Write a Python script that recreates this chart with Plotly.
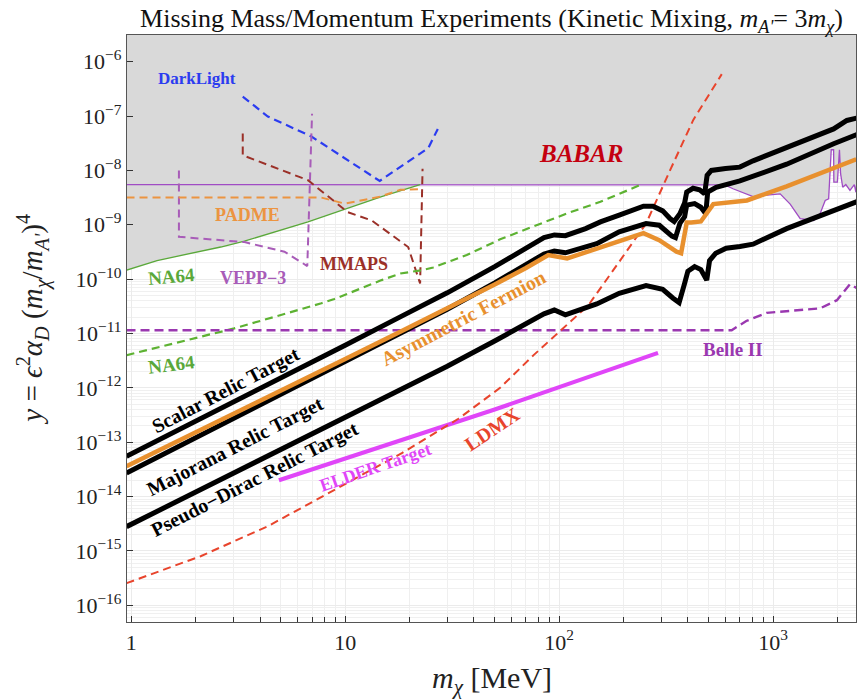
import plotly.graph_objects as go
import numpy as np

# ---------------- data ----------------
scalar_x = [0.95, 2, 5, 10, 18, 30, 50, 70, 85, 95, 107, 133, 156, 191, 248, 275, 305, 330, 345, 367, 386, 395, 423, 454, 479, 492, 515, 600, 700, 807, 1158, 1500, 1920, 2215, 2550]
scalar_y = [5.5e-14, 2.4e-13, 1.5e-12, 6.1e-12, 2.0e-11, 5.6e-11, 1.7e-10, 3.7e-10, 5.8e-10, 6.5e-10, 6.3e-10, 8.5e-10, 1.13e-9, 1.5e-9, 2.2e-9, 2.2e-9, 1.8e-9, 1.3e-9, 1.15e-9, 1.6e-9, 2.5e-9, 4.0e-9, 4.7e-9, 4.4e-9, 3.7e-9, 8.1e-9, 1.0e-8, 1.08e-8, 1.15e-8, 1.5e-8, 2.6e-8, 3.8e-8, 5.8e-8, 8.3e-8, 9.5e-8]

majorana_x = [0.95, 2, 5, 10, 18, 30, 50, 70, 85, 95, 107, 150, 191, 255, 294, 337, 350, 367, 386, 395, 430, 460, 485, 495, 542, 700, 1158, 1920, 2550]
majorana_y = [2.7e-14, 1.2e-13, 7.5e-13, 3.0e-12, 9.8e-12, 2.8e-11, 8.5e-11, 1.85e-10, 2.9e-10, 3.3e-10, 3.05e-10, 4.5e-10, 7.4e-10, 1.05e-9, 9.8e-10, 6.2e-10, 5.8e-10, 1.06e-9, 1.4e-9, 2.3e-9, 2.45e-9, 2.1e-9, 1.6e-9, 4.0e-9, 4.9e-9, 6.4e-9, 1.3e-8, 3.1e-8, 4.8e-8]

pdirac_x = [0.95, 2, 5, 10, 18, 30, 50, 70, 85, 95, 107, 150, 191, 255, 305, 340, 364, 385, 400, 430, 460, 490, 505, 540, 604, 700, 807, 1158, 1920, 2550]
pdirac_y = [2.8e-15, 1.2e-14, 7.3e-14, 2.9e-13, 8.8e-13, 2.5e-12, 7.3e-12, 1.5e-11, 2.3e-11, 2.7e-11, 2.2e-11, 3.5e-11, 5.5e-11, 7.6e-11, 6.5e-11, 4.5e-11, 3.7e-11, 8.0e-11, 1.4e-10, 1.7e-10, 1.5e-10, 9.6e-11, 2.2e-10, 3.0e-10, 3.7e-10, 4.0e-10, 4.4e-10, 8.5e-10, 1.85e-9, 2.8e-9]

asym_x = [0.95, 2, 5, 10, 18, 30, 50, 70, 89, 109, 156, 248, 294, 354, 372, 395, 415, 460, 526, 755, 1158, 2215, 2450]
asym_y = [3.6e-14, 1.5e-13, 8.7e-13, 3.4e-12, 1.07e-11, 2.9e-11, 8.0e-11, 1.6e-10, 2.77e-10, 2.4e-10, 3.8e-10, 7.0e-10, 5.2e-10, 3.2e-10, 3.0e-10, 1.1e-9, 1.1e-9, 1.15e-9, 2.4e-9, 2.8e-9, 5.1e-9, 1.4e-8, 1.6e-8]

elder_x = [4.9, 50, 290]
elder_y = [2.0e-14, 4.0e-13, 4.4e-12]

ldmx_x = [0.95, 2.11, 4.35, 8.9, 18.4, 33.8, 53, 76, 105, 137, 186, 255, 330, 424, 576]
ldmx_y = [2.55e-16, 8.0e-16, 2.85e-15, 1.34e-14, 6.3e-14, 2.7e-13, 1.0e-12, 4.0e-12, 1.3e-11, 3.3e-11, 1.8e-10, 1.05e-9, 1.0e-8, 8.5e-8, 5.9e-7]

belle_x = [0.95, 641, 750, 934, 1660, 1990, 2290, 2555]
belle_y = [1.15e-11, 1.15e-11, 1.7e-11, 2.4e-11, 2.9e-11, 4.1e-11, 8.1e-11, 6.3e-11]

na64d_x = [0.95, 3.03, 7.74, 8.9, 14.8, 18.1, 22.8, 25.8, 31.6, 37, 53, 75.9, 109, 156, 245]
na64d_y = [4.0e-12, 1.24e-11, 3.6e-11, 4.3e-11, 9.6e-11, 1.27e-10, 1.46e-10, 1.64e-10, 2.2e-10, 2.77e-10, 5.4e-10, 9.2e-10, 1.62e-9, 2.65e-9, 5.6e-9]

na64s_x = [0.95, 1.32, 2.62, 3.38, 6.7, 9.6, 14.8, 22.4]
na64s_y = [1.46e-10, 2.2e-10, 3.9e-10, 5.0e-10, 1.13e-9, 1.85e-9, 3.3e-9, 5.5e-9]

babar_x = [0.95, 22.4, 93, 595, 650, 807, 1080, 1203, 1340, 1550, 1660, 1754, 1820, 1872, 1920, 1925, 2000, 2045, 2070, 2118, 2190, 2290, 2400, 2440, 2530, 2600]
babar_y = [5.5e-9, 5.5e-9, 5.5e-9, 5.4e-9, 4.6e-9, 3.3e-9, 3.7e-9, 2.4e-9, 1.3e-9, 1.2e-9, 1.6e-9, 2.8e-9, 3.0e-9, 2.4e-8, 2.4e-8, 6.1e-9, 6.1e-9, 2.4e-8, 8.7e-9, 4.9e-9, 5.5e-9, 4.3e-9, 5.5e-9, 4.0e-9, 1.5e-8, 1.5e-8]

padme_x = [0.95, 7.74, 9.96, 14.6, 18.1, 22.0]
padme_y = [3.16e-9, 3.16e-9, 2.45e-9, 3.3e-9, 4.4e-9, 4.5e-9]

mmaps_x = [3.32, 3.32, 6.7, 10.3, 13.3, 19.7, 22.4, 23.0]
mmaps_y = [4.8e-8, 1.9e-8, 6.6e-9, 1.7e-9, 1.2e-9, 3.9e-10, 8.3e-11, 1.07e-8]

vepp_x = [1.67, 1.67, 3.38, 5.2, 6.65, 7.0]
vepp_y = [1.0e-8, 6.0e-10, 4.8e-10, 3.2e-10, 1.74e-10, 1.1e-7]

darklight_x = [3.32, 4.35, 6.95, 14.5, 24.5, 27.1]
darklight_y = [2.28e-7, 9.8e-8, 4.2e-8, 6.4e-9, 2.6e-8, 5.8e-8]

xtick_vals = [1, 10, 100, 1000]
xtick_text = ["1", "10", "10<sup>2</sup>", "10<sup>3</sup>"]
ytick_exps = [-6, -7, -8, -9, -10, -11, -12, -13, -14, -15, -16]

FONT = "Liberation Serif"

fig = go.Figure()

# BABAR / NA64 excluded region (gray)
ytop = 1e-4
fill_x = [0.9] + na64s_x + [x for x in babar_x if x > na64s_x[-1]] + [babar_x[-1], 0.9]
fill_y = [na64s_y[0]] + na64s_y + [y for x, y in zip(babar_x, babar_y) if x > na64s_x[-1]] + [ytop, ytop]
fig.add_trace(go.Scatter(x=fill_x, y=fill_y, fill="toself", fillcolor="#d9d9d9",
                         line=dict(width=0), mode="lines", hoverinfo="skip"))

def line(x, y, color, width, dash=None):
    fig.add_trace(go.Scatter(x=x, y=y, mode="lines",
                             line=dict(color=color, width=width, dash=dash)))

line(babar_x, babar_y, "#a04cc4", 1.3)
line(na64s_x, na64s_y, "#5aa83a", 1.3)
line(darklight_x, darklight_y, "#2b3cf0", 2.2, "8px,5px")
line(vepp_x, vepp_y, "#a85cb8", 2.0, "8px,5px")
line(mmaps_x, mmaps_y, "#9b3028", 2.0, "8px,5px")
line(padme_x, padme_y, "#ec9440", 2.0, "8px,5px")
line(na64d_x, na64d_y, "#5db232", 2.2, "8px,5px")
line(belle_x, belle_y, "#9a38b0", 2.4, "9px,5px")
line(elder_x, elder_y, "#e046f8", 4.2)
line(ldmx_x, ldmx_y, "#e8442c", 2.0, "8px,5px")
line(pdirac_x, pdirac_y, "black", 5)
line(majorana_x, majorana_y, "black", 5)
line(scalar_x, scalar_y, "black", 5)
line(asym_x, asym_y, "#e8902e", 4.5)

# labels: (text, log10 x, log10 y, color, size, angle)
labels = [
    ("DarkLight", 0.307, -6.318, "#2b3cf0", 17, 0),
    ("PADME", 0.544, -8.822, "#ec9440", 18, 0),
    ("MMAPS", 1.039, -9.724, "#9b3028", 18, 0),
    ("NA64", 0.190, -9.957, "#5aa83a", 19, -5),
    ("VEPP\u22123", 0.568, -9.987, "#a85cb8", 18, 0),
    ("NA64", 0.190, -11.564, "#5aa83a", 19, -7),
    ("Scalar Relic Target", 0.439, -12.04, "black", 20, -27.5),
    ("Majorana Relic Target", 0.486, -13.086, "black", 20, -27),
    ("Pseudo\u2212Dirac Relic Target", 0.575, -13.681, "black", 20, -27),
    ("ELDER Target", 1.143, -13.454, "#e046f8", 18, -19),
    ("LDMX", 1.686, -12.748, "#e8442c", 20, -34),
    ("Asymmetric Fermion", 1.551, -10.717, "#e8902e", 20, -27.7),
    ("Belle II", 2.814, -11.294, "#9a38b0", 19, 0),
]
for t, lx, ly, c, s, a in labels:
    fig.add_annotation(x=lx, y=ly, xref="x", yref="y", text="<b>%s</b>" % t,
                       showarrow=False, textangle=a,
                       font=dict(family=FONT, size=s, color=c))
fig.add_annotation(x=2.103, y=-7.686, xref="x", yref="y", text="<b><i>BABAR</i></b>",
                   showarrow=False, font=dict(family=FONT, size=25, color="#c4000f"))

# axis titles
fig.add_annotation(x=0.5, y=-(680 - 621.7) / 587, xref="paper", yref="paper",
                   text="<i>m</i><sub><i>\u03c7</i></sub> [MeV]", showarrow=False,
                   font=dict(family=FONT, size=30, color="#222"), yanchor="middle")
fig.add_annotation(x=-(127 - 33) / 729, y=0.515, xref="paper", yref="paper",
                   text="<i>y</i> = <i>\u03f5</i><sup>2</sup><i>\u03b1</i><sub><i>D</i></sub> (<i>m</i><sub><i>\u03c7</i></sub>/<i>m</i><sub><i>A'</i></sub>)<sup>4</sup>",
                   showarrow=False, textangle=-90,
                   font=dict(family=FONT, size=29, color="#222"), xanchor="center")

minor_x = [k * 10 ** e for e in range(-1, 4) for k in range(2, 10)]
minor_y = [k * 10.0 ** e for e in range(-17, -5) for k in range(2, 10)]

fig.update_layout(
    width=860, height=699,
    margin=dict(l=127, r=4, t=35, b=77),
    paper_bgcolor="white", plot_bgcolor="white",
    showlegend=False,
    title=dict(text="Missing Mass/Momentum Experiments (Kinetic Mixing, <i>m</i><sub><i>A'</i></sub>= 3<i>m</i><sub><i>\u03c7</i></sub>)",
               x=0.5, xref="paper", y=1 - 18 / 699, yanchor="middle",
               font=dict(family=FONT, size=26, color="#111")),
    xaxis=dict(type="log", range=[-0.020, 3.388], showline=True, mirror=True,
               linecolor="#555", linewidth=1.2, ticks="inside", ticklen=6, tickcolor="#333",
               tickvals=xtick_vals, ticktext=xtick_text, showgrid=True, gridcolor="#ebebeb",
               tickfont=dict(family=FONT, size=22, color="#222"), zeroline=False,
               minor=dict(tickvals=minor_x, ticks="inside", ticklen=5, tickcolor="#333",
                          showgrid=True, gridcolor="#efefef")),
    yaxis=dict(type="log", range=[-16.307, -5.509], showline=True, mirror=True,
               linecolor="#555", linewidth=1.2, ticks="inside", ticklen=6, tickcolor="#333",
               tickvals=[10.0 ** e for e in ytick_exps],
               ticktext=["10<sup>\u2212%d</sup>" % (-e) for e in ytick_exps],
               showgrid=True, gridcolor="#ebebeb",
               tickfont=dict(family=FONT, size=22, color="#222"), zeroline=False,
               minor=dict(tickvals=minor_y, ticks="", showgrid=True, gridcolor="#f0f0f0")),
)

fig.write_html("out.html")
